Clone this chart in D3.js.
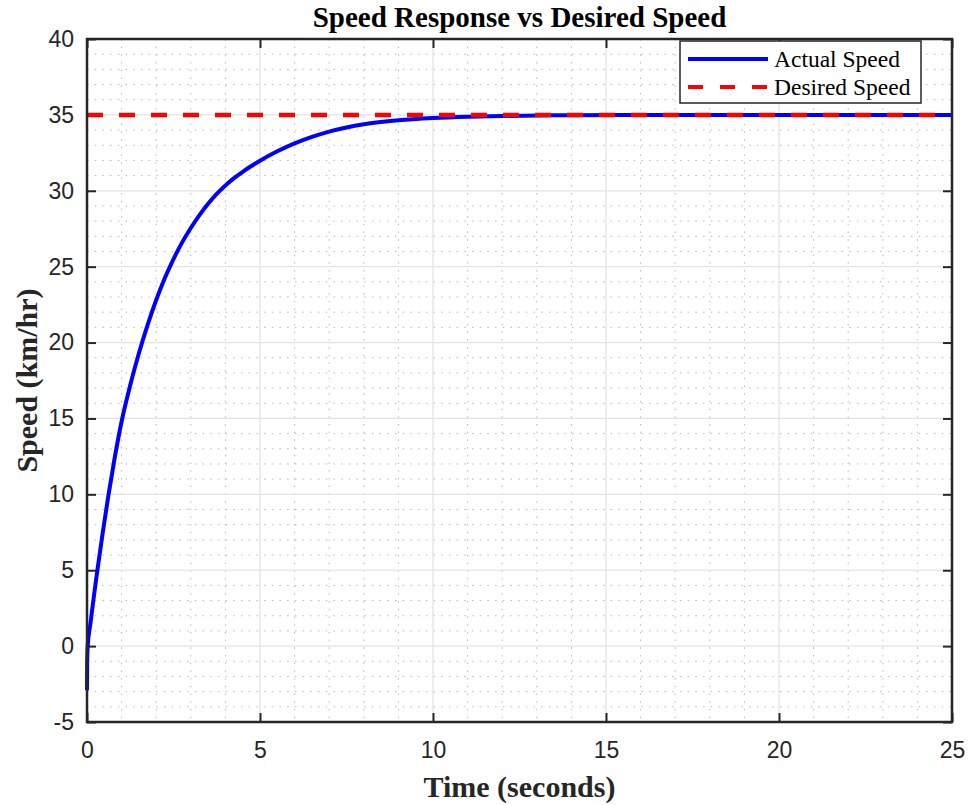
<!DOCTYPE html>
<html>
<head>
<meta charset="utf-8">
<script src="https://cdn.jsdelivr.net/npm/d3@7"></script>
<style>
  body { margin: 0; background: #fff; }
  svg { display: block; }
  .tick text { font-family: "Liberation Sans", Arial, sans-serif; font-size: 23px; fill: #262626; }
  .serif { font-family: "Liberation Serif", "Times New Roman", serif; }
</style>
</head>
<body>
<svg id="chart"></svg>
<script>
// Define chart dimensions (margin convention)

const width = 971;
const height = 805;
const margin = { top: 39, right: 19, bottom: 83, left: 87 };

// Data

const timeValues = [0, 0.005, 0.02, 0.1, 0.2, 0.3, 0.45, 0.62, 0.8, 1.0, 1.25, 1.5, 1.75, 2.0, 2.25, 2.5, 2.75, 3.0, 3.25, 3.5, 3.75, 4.0, 4.25, 4.5, 4.75, 5, 5.5, 6, 6.5, 7, 7.5, 8, 9, 10, 11, 12, 14, 16, 20, 25];
const speedValues = [-2.9, -1.2, 0, 1.5, 3.3, 5.0, 7.4, 9.95, 12.4, 14.8, 17.2, 19.3, 21.15, 22.8, 24.25, 25.5, 26.6, 27.55, 28.4, 29.15, 29.8, 30.35, 30.83, 31.25, 31.63, 31.98, 32.6, 33.12, 33.55, 33.9, 34.17, 34.38, 34.64, 34.79, 34.88, 34.93, 34.98, 35, 35, 35];
const desiredSpeed = 35;

const xTicks = [0, 5, 10, 15, 20, 25];
const yTicks = [-5, 0, 5, 10, 15, 20, 25, 30, 35, 40];

const seriesNames = ["Actual Speed", "Desired Speed"];
const seriesColors = ["#0000ff", "#ff0000"];

const dataset = timeValues.map((t, i) => ({ t: t, v: speedValues[i] }));

// Scales

const innerWidth = width - margin.left - margin.right;
const innerHeight = height - margin.top - margin.bottom;

const x = d3.scaleLinear().domain([0, 25]).range([0, innerWidth]);
const y = d3.scaleLinear().domain([-5, 40]).range([innerHeight, 0]);

const svg = d3.select("#chart")
  .attr("width", width)
  .attr("height", height);

const plot = svg.append("g")
  .attr("transform", "translate(" + margin.left + "," + margin.top + ")");

// Minor grid (dotted)

const minorX = d3.range(0, 26, 1).filter((d) => d % 5 !== 0);
const minorY = d3.range(-5, 41, 1).filter((d) => d % 5 !== 0);

plot.append("g").selectAll("line")
  .data(minorX)
  .enter()
  .append("line")
  .attr("x1", (d) => x(d)).attr("x2", (d) => x(d))
  .attr("y1", 0).attr("y2", innerHeight)
  .attr("stroke", "#b8b8b8")
  .attr("stroke-width", 1)
  .attr("stroke-dasharray", "1.5,6.2");

plot.append("g").selectAll("line")
  .data(minorY)
  .enter()
  .append("line")
  .attr("x1", 0).attr("x2", innerWidth)
  .attr("y1", (d) => y(d)).attr("y2", (d) => y(d))
  .attr("stroke", "#b8b8b8")
  .attr("stroke-width", 1)
  .attr("stroke-dasharray", "1.5,6.2");

// Major grid (solid light gray)

plot.append("g").selectAll("line")
  .data(xTicks.slice(1, -1))
  .enter()
  .append("line")
  .attr("x1", (d) => x(d)).attr("x2", (d) => x(d))
  .attr("y1", 0).attr("y2", innerHeight)
  .attr("stroke", "#e3e3e3")
  .attr("stroke-width", 1.3);

plot.append("g").selectAll("line")
  .data(yTicks.slice(1, -1))
  .enter()
  .append("line")
  .attr("x1", 0).attr("x2", innerWidth)
  .attr("y1", (d) => y(d)).attr("y2", (d) => y(d))
  .attr("stroke", "#e3e3e3")
  .attr("stroke-width", 1.3);

// Axes (box with inward ticks on all sides)

const axisColor = "#262626";
const plainFormat = (d) => String(d);

const xAxis = plot.append("g")
  .attr("transform", "translate(0," + innerHeight + ")")
  .call(d3.axisBottom(x).tickValues(xTicks).tickFormat(plainFormat).tickSizeInner(-9).tickSizeOuter(0).tickPadding(20));

const yAxis = plot.append("g")
  .call(d3.axisLeft(y).tickValues(yTicks).tickFormat(plainFormat).tickSizeInner(-9).tickSizeOuter(0).tickPadding(13));

const xTop = plot.append("g")
  .call(d3.axisTop(x).tickValues(xTicks).tickSizeInner(-9).tickSizeOuter(0));

const yRight = plot.append("g")
  .attr("transform", "translate(" + innerWidth + ",0)")
  .call(d3.axisRight(y).tickValues(yTicks).tickSizeInner(-9).tickSizeOuter(0));

// mirrored axes carry ticks only
xTop.selectAll(".tick text").remove();
yRight.selectAll(".tick text").remove();

[xAxis, yAxis, xTop, yRight].forEach((a) => {
  a.select(".domain").remove();
  a.selectAll(".tick line").attr("stroke", axisColor).attr("stroke-width", 2);
});

// Lines

const line = d3.line()
  .x((d) => x(d.t))
  .y((d) => y(d.v))
  .curve(d3.curveMonotoneX);

plot.append("path")
  .datum(dataset)
  .attr("fill", "none")
  .attr("stroke", seriesColors[0])
  .attr("stroke-width", 4)
  .attr("d", line);

plot.append("line")
  .attr("x1", x(0)).attr("x2", x(25))
  .attr("y1", y(desiredSpeed)).attr("y2", y(desiredSpeed))
  .attr("stroke", seriesColors[1])
  .attr("stroke-width", 4.5)
  .attr("stroke-dasharray", "16,16");

// Box

plot.append("rect")
  .attr("x", 0).attr("y", 0)
  .attr("width", innerWidth).attr("height", innerHeight)
  .attr("fill", "none")
  .attr("stroke", axisColor)
  .attr("stroke-width", 2.5);

// Legend

const legend = svg.append("g").attr("transform", "translate(680,41)");

legend.append("rect")
  .attr("width", 241).attr("height", 62)
  .attr("fill", "#fff")
  .attr("stroke", axisColor)
  .attr("stroke-width", 1.5);

seriesNames.forEach((name, i) => {
  const ly = 18 + i * 28;
  legend.append("line")
    .attr("x1", 8).attr("x2", 88)
    .attr("y1", ly).attr("y2", ly)
    .attr("stroke", seriesColors[i])
    .attr("stroke-width", 4)
    .attr("stroke-dasharray", i === 1 ? "15,17" : null);
  legend.append("text")
    .attr("class", "serif")
    .attr("x", 94).attr("y", ly + 8)
    .attr("font-size", "23.5px")
    .attr("fill", "#000")
    .text(name);
});

// Title and axis labels

svg.append("text")
  .attr("class", "serif")
  .attr("x", margin.left + innerWidth / 2)
  .attr("y", 27)
  .attr("text-anchor", "middle")
  .attr("font-size", "29px")
  .attr("font-weight", "bold")
  .attr("fill", "#000")
  .text("Speed Response vs Desired Speed");

svg.append("text")
  .attr("class", "serif")
  .attr("x", margin.left + innerWidth / 2)
  .attr("y", 797)
  .attr("text-anchor", "middle")
  .attr("font-size", "30px")
  .attr("font-weight", "bold")
  .attr("fill", "#262626")
  .text("Time (seconds)");

svg.append("text")
  .attr("class", "serif")
  .attr("transform", "translate(37," + (margin.top + innerHeight / 2) + ") rotate(-90)")
  .attr("text-anchor", "middle")
  .attr("font-size", "30px")
  .attr("font-weight", "bold")
  .attr("fill", "#262626")
  .text("Speed (km/hr)");
</script>
</body>
</html>
